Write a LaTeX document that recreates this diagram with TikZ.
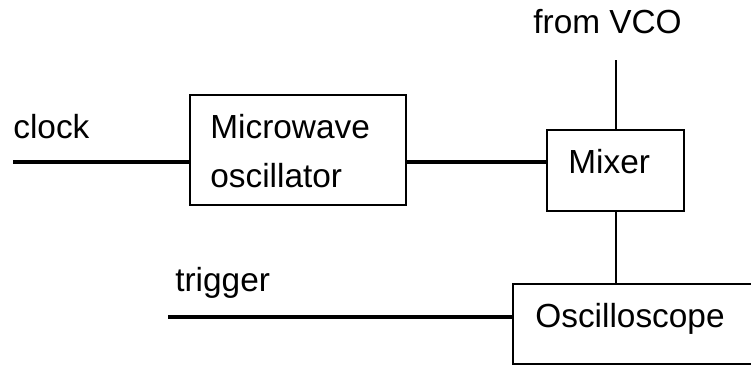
\documentclass[tikz,border=0pt]{standalone}
\usepackage{fontspec}
\setmainfont{Liberation Sans}
\usepackage{tikz}
\usetikzlibrary{fit}
\tikzset{
	block/.style={draw=black, line width=1.1pt, inner sep=0pt},
	signal/.style={black, line width=2pt},
	wire/.style={black, line width=1.1pt},
	labeltext/.style={font=\fontsize{19}{27.8}\selectfont, inner sep=0pt, anchor=base west, align=left}
}

\begin{document}
\begin{tikzpicture}[x=0.02cm, y=-0.02cm]
	\useasboundingbox (0,0) rectangle (751,366);
	% boxes
	\node[block, fit={(190,95) (406,205)}] (osc) {};
	\node[block, fit={(547,130) (684,211)}] (mixer) {};
	\node[block, fit={(513,284) (790,364)}] (scope) {};
	
	% texts
	\node[labeltext] (clocktxt) at (13,138) {clock};
	\node[labeltext] (osctxt) at (210,187) {Microwave\\oscillator};
	\node[labeltext] (vcotxt) at (533,33) {from VCO};
	\node[labeltext] (mixtxt) at (568,173) {Mixer};
	\node[labeltext] (trigtxt) at (175,291) {trigger};
	\node[labeltext] (scopetxt) at (535,327) {Oscilloscope};
	
	% free ends of the lines
	\coordinate (clk) at (13,162);
	\coordinate (vco) at (616,60);
	\coordinate (trg) at (168,317);
	
	% connections
	\draw[signal] (clk) -- (clk -| osc.west);
	\draw[signal] (osc.east |- clk) -- (mixer.west |- clk);
	\draw[wire] (vco) -- (vco |- mixer.north);
	\draw[wire] (mixer.south -| vco) -- (scope.north -| vco);
	\draw[signal] (trg) -- (trg -| scope.west);
\end{tikzpicture}
\end{document}
